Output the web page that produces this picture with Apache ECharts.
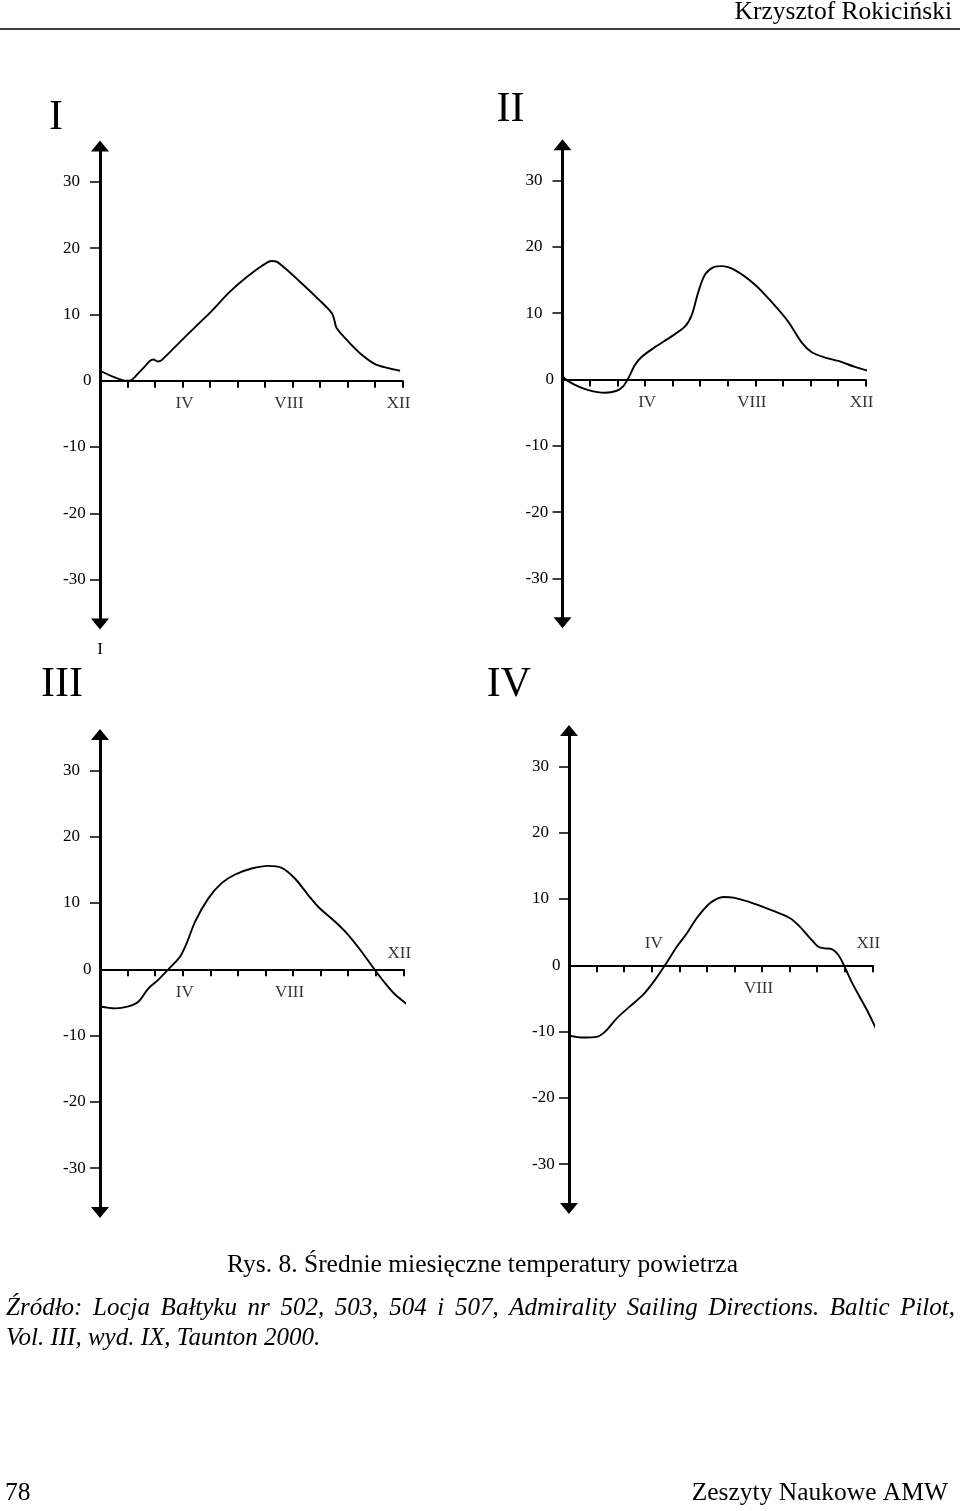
<!DOCTYPE html>
<html>
<head>
<meta charset="utf-8">
<style>
  html, body { margin: 0; padding: 0; background: #fff; }
  #chart { width: 960px; height: 1511px; }
</style>
<script src="https://cdn.jsdelivr.net/npm/echarts@6/dist/echarts.min.js"></script>
</head>
<body>
<div id="chart"></div>
<script>
// ---------- data ----------
const panelNames = ['I', 'II', 'III', 'IV'];
const yTickValues = [-30, -20, -10, 0, 10, 20, 30];
const yTickMarks = [-30, -20, -10, 10, 20, 30];
const monthLabelNames = ['IV', 'VIII', 'XII'];
const monthLabelValues = [4, 8, 12];

const monthsI = [1, 1.42, 1.97, 2.15, 2.39, 2.64, 2.82, 2.94, 3.1, 3.24, 3.85, 4.45, 5.06, 5.67, 6.27, 6.88, 7.24, 7.42, 7.73, 8.33, 8.94, 9.43, 9.52, 9.61, 10.03, 10.52, 11.0, 11.48, 11.91];
const tempsI  = [1.5, 0.7, 0.0, 0.1, 1.1, 2.2, 3.0, 3.2, 2.9, 3.1, 5.6, 8.05, 10.5, 13.2, 15.4, 17.3, 18.05, 17.95, 16.95, 14.7, 12.3, 10.2, 9.15, 7.9, 5.9, 3.9, 2.5, 1.9, 1.5];

const monthsII = [0.87, 1.09, 1.45, 1.94, 2.54, 2.97, 3.21, 3.39, 3.63, 3.87, 4.36, 4.96, 5.45, 5.69, 5.93, 6.17, 6.47, 6.78, 7.26, 7.99, 8.59, 9.2, 9.68, 10.05, 10.53, 11.01, 11.62, 12.1];
const tempsII  = [1.3, 0.1, -0.8, -1.6, -2.0, -1.7, -1.0, 0.2, 2.2, 3.4, 4.9, 6.5, 8.0, 9.7, 13.2, 15.8, 16.9, 17.1, 16.5, 14.3, 11.7, 8.7, 5.6, 4.1, 3.3, 2.8, 1.9, 1.3];

const monthsIII = [1, 1.54, 2.03, 2.39, 2.75, 3.11, 3.48, 3.9, 4.14, 4.45, 4.93, 5.41, 5.9, 6.5, 7.1, 7.59, 8.07, 8.55, 8.92, 9.52, 10.0, 10.49, 10.95, 11.34, 11.7, 12.24];
const tempsIII  = [-5.6, -5.9, -5.6, -4.9, -2.9, -1.6, 0, 1.9, 3.9, 7.2, 10.7, 13.0, 14.3, 15.2, 15.6, 15.3, 13.7, 11.2, 9.4, 7.2, 5.2, 2.65, 0, -2.1, -3.8, -5.6];

const monthsIV = [1.01, 1.52, 2.0, 2.31, 2.73, 3.21, 3.7, 4.12, 4.48, 4.91, 5.27, 5.63, 6.11, 6.6, 6.96, 7.68, 8.41, 9.02, 9.38, 9.74, 10.04, 10.29, 10.53, 10.77, 10.97, 11.31, 11.8, 12.22];
const tempsIV  = [-10.6, -10.9, -10.8, -10.0, -8.0, -6.2, -4.4, -2.2, 0, 2.8, 4.8, 7.1, 9.35, 10.3, 10.2, 9.35, 8.2, 7.1, 5.8, 4.1, 2.8, 2.55, 2.45, 1.55, 0, -3.0, -6.7, -10.3];

const headerText = 'Krzysztof Rokiciński';
const captionText = 'Rys. 8. Średnie miesięczne temperatury powietrza';
const sourceLine1 = 'Źródło: Locja Bałtyku nr 502, 503, 504 i 507, Admirality Sailing Directions. Baltic Pilot,';
const sourceLine2 = 'Vol. III, wyd. IX, Taunton 2000.';
const footerLeft = '78';
const footerRight = 'Zeszyty Naukowe AMW';
const strayLabel = 'I';

// ---------- layout (not data) ----------
const SERIF = '"Liberation Serif", "Times New Roman", serif';
const AXIS_FONT = 17;
const Y_MIN = -36.7, Y_MAX = 35.4;
const panels = [
  { left: 100,   top: 146.0, width: 302.5, title: [56, 118],  sides: ['down', 'down', 'down'] },
  { left: 562.5, top: 144.8, width: 303.0, title: [510.5, 110], sides: ['down', 'down', 'down'] },
  { left: 100,   top: 734.6, width: 303.3, title: [62, 685],  sides: ['down', 'down', 'up'] },
  { left: 569,   top: 730.6, width: 303.3, title: [509, 685], sides: ['up', 'down', 'up'] }
];
const GRID_H = 478.0;
const labelDx = [2, -3.5, -4];
const seriesData = [
  [monthsI, tempsI], [monthsII, tempsII], [monthsIII, tempsIII], [monthsIV, tempsIV]
];

const grids = [], xAxes = [], yAxes = [], series = [];
panels.forEach((p, i) => {
  grids.push({ left: p.left, top: p.top, width: p.width, height: GRID_H, containLabel: false });
  xAxes.push({
    type: 'value', gridIndex: i, min: 1, max: 12, interval: 1,
    axisLine: { show: true, onZero: true, lineStyle: { color: '#000', width: 2 } },
    axisTick: { show: true, length: 7, lineStyle: { color: '#000', width: 2 } },
    axisLabel: { show: false },
    splitLine: { show: false }
  });
  yAxes.push({
    type: 'value', gridIndex: i, min: Y_MIN, max: Y_MAX,
    axisLine: { show: true, onZero: false, symbol: ['triangle', 'triangle'], symbolSize: [18, 11],
      lineStyle: { color: '#000', width: 3 } },
    axisTick: { show: true, length: 10, customValues: yTickMarks, lineStyle: { color: '#000', width: 1.5 } },
    axisLabel: {
      show: true, customValues: yTickValues, margin: 37, align: 'left',
      color: '#000', fontFamily: SERIF, fontSize: AXIS_FONT,
      formatter: v => (v === 0 ? '{z|0}' : '{n|' + v + '}'),
      rich: {
        n: { fontFamily: SERIF, fontSize: AXIS_FONT, color: '#000' },
        z: { fontFamily: SERIF, fontSize: AXIS_FONT, color: '#000', padding: [0, 0, 0, 20] }
      }
    },
    splitLine: { show: false }
  });
  const [mx, ty] = seriesData[i];
  series.push({
    type: 'line', xAxisIndex: i, yAxisIndex: i, clip: false, smooth: 0.3,
    symbol: 'none', lineStyle: { color: '#000', width: 1.9 },
    data: mx.map((m, k) => [m, ty[k]])
  });
  series.push({
    type: 'scatter', xAxisIndex: i, yAxisIndex: i, clip: false, silent: true,
    symbol: 'circle', symbolSize: 1, itemStyle: { color: 'rgba(0,0,0,0)' },
    label: { show: true, formatter: '{b}', fontFamily: SERIF, fontSize: AXIS_FONT, color: '#000' },
    data: monthLabelValues.map((m, k) => ({
      value: [m, 0], name: monthLabelNames[k],
      label: p.sides[k] === 'up'
        ? { position: 'top', distance: (i === 2 ? 7 : 12.5), offset: [labelDx[k], 0] }
        : { position: 'bottom', distance: 14, offset: [labelDx[k], 0] }
    }))
  });
});

// ---------- justified source line ----------
const ITALIC_FONT = 'italic 25px "Liberation Serif"';
const ctx = document.createElement('canvas').getContext('2d');
ctx.font = ITALIC_FONT;
const words = sourceLine1.split(' ');
const wWidths = words.map(w => ctx.measureText(w).width);
const totalW = wWidths.reduce((a, b) => a + b, 0);
const lineX0 = 6, lineX1 = 955;
const gap = (lineX1 - lineX0 - totalW) / (words.length - 1);
const justified = [];
let cx = lineX0;
words.forEach((w, k) => {
  justified.push({ type: 'text', x: cx, y: 1308, silent: true,
    style: { text: w, font: ITALIC_FONT, fill: '#000', textAlign: 'left', textVerticalAlign: 'middle' } });
  cx += wWidths[k] + gap;
});

const BODY_FONT = '25.5px "Liberation Serif"';
const graphics = [
  { type: 'text', x: 952, y: 12, style: { text: headerText, font: BODY_FONT, fill: '#000', textAlign: 'right', textVerticalAlign: 'middle' } },
  { type: 'line', shape: { x1: 0, y1: 29, x2: 960, y2: 29 }, style: { stroke: '#000', lineWidth: 1.5 } },
  { type: 'text', x: 100, y: 650, style: { text: strayLabel, font: '17px "Liberation Serif"', fill: '#000', textAlign: 'center', textVerticalAlign: 'middle' } },
  { type: 'text', x: 482.5, y: 1265, style: { text: captionText, font: BODY_FONT, fill: '#000', textAlign: 'center', textVerticalAlign: 'middle' } },
  { type: 'text', x: 6, y: 1338, style: { text: sourceLine2, font: ITALIC_FONT, fill: '#000', textAlign: 'left', textVerticalAlign: 'middle' } },
  { type: 'text', x: 5, y: 1493, style: { text: footerLeft, font: BODY_FONT, fill: '#000', textAlign: 'left', textVerticalAlign: 'middle' } },
  { type: 'text', x: 948, y: 1493, style: { text: footerRight, font: BODY_FONT, fill: '#000', textAlign: 'right', textVerticalAlign: 'middle' } }
].concat(justified);
panels.forEach((p, i) => {
  graphics.push({ type: 'text', x: p.title[0], y: p.title[1],
    style: { text: panelNames[i], font: '42px "Liberation Serif"', fill: '#000', textAlign: 'center', textVerticalAlign: 'middle' } });
});

const chart = echarts.init(document.getElementById('chart'), null, { renderer: 'canvas' });
chart.setOption({
  backgroundColor: '#fff',
  animation: false,
  grid: grids,
  xAxis: xAxes,
  yAxis: yAxes,
  series: series,
  graphic: graphics
});
</script>
</body>
</html>
